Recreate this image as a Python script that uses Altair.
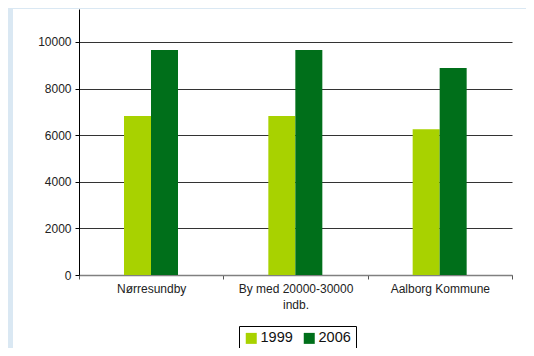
import altair as alt
import pandas as pd

categories = ["Nørresundby", "By med 20000-30000\nindb.", "Aalborg Kommune"]
years = ["1999", "2006"]
values_1999 = [6820, 6820, 6260]
values_2006 = [9660, 9660, 8880]
y_ticks = [0, 2000, 4000, 6000, 8000, 10000]
colors = ["#A8D200", "#006F1A"]

rows = []
for c, a, b in zip(categories, values_1999, values_2006):
    rows.append({"Område": c, "År": years[0], "Værdi": a})
    rows.append({"Område": c, "År": years[1], "Værdi": b})
df = pd.DataFrame(rows)

FONT = "Liberation Sans"
W, H = 433, 266
BLUE = "#DAE8F3"

bars = alt.Chart(df).mark_bar().encode(
    x=alt.X("Område:N", sort=categories,
            scale=alt.Scale(paddingInner=0, paddingOuter=0),
            axis=alt.Axis(title=None, labelAngle=0, tickBand="extent",
                          labelExpr="split(datum.label, '\\n')",
                          labelLineHeight=16, labelPadding=4,
                          labelFontSize=12, labelColor="#222222", labelFont=FONT,
                          domainColor="#808080", domainWidth=1.5,
                          tickColor="#555555", tickSize=4, grid=False)),
    xOffset=alt.XOffset("År:N", sort=years,
                        scale=alt.Scale(paddingInner=0, paddingOuter=0, range=[45, 99])),
    y=alt.Y("Værdi:Q", scale=alt.Scale(domain=[0, 11416], nice=False),
            axis=alt.Axis(title=None, values=y_ticks, format="d", labelFontSize=12,
                          labelColor="#222222", labelFont=FONT, labelPadding=4,
                          domainColor="#000000", domainWidth=1,
                          tickColor="#000000", tickSize=4,
                          grid=True, gridColor="#333333", gridWidth=1)),
    color=alt.Color("År:N", sort=years,
                    scale=alt.Scale(domain=years, range=colors),
                    legend=alt.Legend(title=None, orient="none", legendX=160, legendY=317,
                                      direction="horizontal", symbolType="square",
                                      symbolSize=121, symbolStrokeWidth=0,
                                      labelFontSize=14.5, labelFont=FONT, labelColor="#111111",
                                      labelOffset=2, columnPadding=9,
                                      strokeColor="#000000", fillColor="#FFFFFF",
                                      padding=5)),
)

strip_data = alt.Data(values=[{"k": 1}])
left_strip = alt.Chart(strip_data).mark_rect(color=BLUE).encode(
    x=alt.value(-71), x2=alt.value(-66), y=alt.value(-1), y2=alt.value(347))
top_strip = alt.Chart(strip_data).mark_rect(color=BLUE).encode(
    x=alt.value(-71), x2=alt.value(455), y=alt.value(-1), y2=alt.value(0))

chart = alt.layer(left_strip, top_strip, bars).properties(
    width=W, height=H,
    autosize=alt.AutoSizeParams(type="none"),
    padding={"left": 71, "top": 1, "right": 14, "bottom": 73},
    background="#FFFFFF",
).configure_view(stroke=None)

chart.save("out.html", embed_options={"renderer": "svg", "actions": False})
